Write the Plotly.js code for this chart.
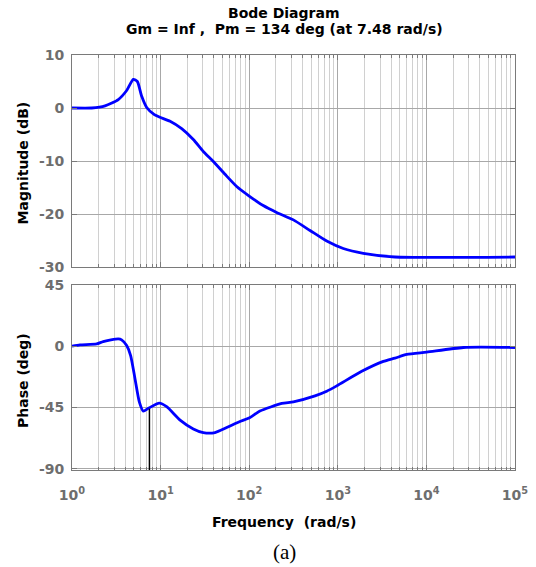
<!DOCTYPE html>
<html>
<head>
<meta charset="utf-8">
<script src="https://cdn.plot.ly/plotly-3.0.1.min.js"></script>
<style>html,body{margin:0;padding:0;background:#fff;}#chart{width:536px;height:567px;}</style>
</head>
<body>
<div id="chart"></div>
<script>
// Magnitude data (rad/s, dB)
const magFreq = [1, 1.67, 2.36, 3.33, 4.14, 4.92, 5.46, 6.12, 6.97, 8.5, 9.85, 12.8, 17.3, 23.4, 30.3, 39.4, 53.3, 72.2, 100, 144, 204, 315, 486, 750, 1153, 1940, 4420, 100000];
const magDb   = [0, 0, 0.4, 1.6, 3.3, 5.4, 5.0, 2.2, 0.1, -1.25, -1.75, -2.5, -3.9, -5.95, -8.2, -10.1, -12.5, -14.8, -16.6, -18.4, -19.7, -21.1, -23.1, -25.1, -26.5, -27.4, -28.1, -28.1];
// Phase data (rad/s, deg)
const phFreq = [1, 1.23, 1.9, 2.25, 3.33, 3.63, 4.14, 4.59, 5.14, 5.75, 6.38, 7.27, 9.67, 11.7, 16.6, 23.4, 30.3, 41.1, 55.7, 78.7, 102, 132, 233, 315, 553, 750, 972, 1862, 3270, 4420, 6000, 10070, 26100, 100000];
const phDeg  = [0, 0.9, 1.7, 3.4, 5.3, 4.6, 0.4, -6.9, -23.9, -40.9, -47.7, -45.7, -41.9, -44.5, -54.3, -60.8, -63.5, -63.5, -59.8, -55.4, -52.5, -47.7, -42.1, -40.9, -36.5, -33.1, -29.2, -18.5, -11.2, -8.8, -6.1, -4.4, -1.0, -1.0];
// Phase margin marker
const pmFreq = [7.48, 7.48];
const pmDeg = [-91, -46];
// Tick labels
const xTickVals = [1, 10, 100, 1000, 10000, 100000];
const xTickText = ['10<sup>0</sup>', '10<sup>1</sup>', '10<sup>2</sup>', '10<sup>3</sup>', '10<sup>4</sup>', '10<sup>5</sup>'];
const magTicks = [-30, -20, -10, 0, 10];
const magTickText = ['-30', '-20', '-10', '0', '10'];
const phTicks = [-90, -45, 0, 45];
const phTickText = ['-90', '-45', '0', '45'];

const FONT = 'DejaVu Sans, Verdana, sans-serif';
const tickFont = {family: FONT, size: 14, color: '#6e6e6e', weight: 'bold'};
const labFont = {family: FONT, size: 14, color: '#000', weight: 'bold'};
const majorGrid = '#a8a8a8';
const minorGrid = '#d0d0d0';
const axLine = '#7a7a7a';

function xAxis(extra) {
  return Object.assign({
    type: 'log', range: [0, 5],
    tickvals: xTickVals, ticktext: xTickText,
    ticks: 'inside', ticklen: 5, tickcolor: axLine,
    showline: true, linecolor: axLine, linewidth: 1, mirror: 'ticks',
    showgrid: true, gridcolor: majorGrid, gridwidth: 1,
    minor: {dtick: 'D1', showgrid: true, gridcolor: minorGrid, gridwidth: 1, ticks: 'inside', ticklen: 3, tickcolor: axLine},
    tickfont: tickFont, zeroline: false, fixedrange: true, ticklabelstandoff: 12
  }, extra);
}
function yAxis(extra) {
  return Object.assign({
    ticks: 'inside', ticklen: 5, tickcolor: axLine,
    showline: true, linecolor: axLine, linewidth: 1, mirror: 'ticks',
    showgrid: true, gridcolor: majorGrid, gridwidth: 1,
    tickfont: tickFont, zeroline: false, fixedrange: true, ticklabelstandoff: 4
  }, extra);
}

const traces = [
  {x: magFreq, y: magDb, xaxis: 'x2', yaxis: 'y2', mode: 'lines', line: {color: '#0000ff', width: 2.8, shape: 'spline', smoothing: 0.6}, hoverinfo: 'skip'},
  {x: phFreq, y: phDeg, xaxis: 'x', yaxis: 'y', mode: 'lines', line: {color: '#0000ff', width: 2.8, shape: 'spline', smoothing: 0.6}, hoverinfo: 'skip'},
  {x: pmFreq, y: pmDeg, xaxis: 'x', yaxis: 'y', mode: 'lines', line: {color: '#000000', width: 1.5}, hoverinfo: 'skip'}
];

const layout = {
  width: 536, height: 567,
  margin: {l: 72, r: 21, t: 55, b: 97},
  paper_bgcolor: '#fff', plot_bgcolor: '#fff',
  showlegend: false,
  xaxis: xAxis({domain: [0, 1], anchor: 'y'}),
  xaxis2: xAxis({domain: [0, 1], anchor: 'y2', matches: 'x', showticklabels: false}),
  yaxis: yAxis({domain: [0, 0.446], anchor: 'x', range: [-91, 45], tickvals: phTicks, ticktext: phTickText}),
  yaxis2: yAxis({domain: [0.489, 1], anchor: 'x2', range: [-30, 10], tickvals: magTicks, ticktext: magTickText}),
  annotations: [
    {text: 'Bode Diagram', xref: 'paper', yref: 'paper', x: 0.479, y: 1, xanchor: 'center', yanchor: 'middle', yshift: 42, showarrow: false, font: labFont},
    {text: 'Gm = Inf ,&nbsp; Pm = 134 deg (at 7.48 rad/s)', xref: 'paper', yref: 'paper', x: 0.479, y: 1, xanchor: 'center', yanchor: 'middle', yshift: 26, showarrow: false, font: labFont},
    {text: 'Magnitude (dB)', xref: 'paper', yref: 'paper', x: 0, y: 0.7386, xanchor: 'center', yanchor: 'middle', xshift: -49, textangle: -90, showarrow: false, font: labFont},
    {text: 'Phase (deg)', xref: 'paper', yref: 'paper', x: 0, y: 0.2145, xanchor: 'center', yanchor: 'middle', xshift: -49, textangle: -90, showarrow: false, font: labFont},
    {text: 'Frequency&nbsp;&nbsp;(rad/s)', xref: 'paper', yref: 'paper', x: 0.479, y: 0, yanchor: 'middle', xanchor: 'center', yshift: -52, showarrow: false, font: labFont},
    {text: '(a)', xref: 'paper', yref: 'paper', x: 0.479, y: 0, yanchor: 'middle', xanchor: 'center', yshift: -82, showarrow: false, font: {family: 'Liberation Serif, Times New Roman, serif', size: 21, color: '#000'}}
  ]
};

Plotly.newPlot('chart', traces, layout, {displayModeBar: false, staticPlot: true});
</script>
</body>
</html>
